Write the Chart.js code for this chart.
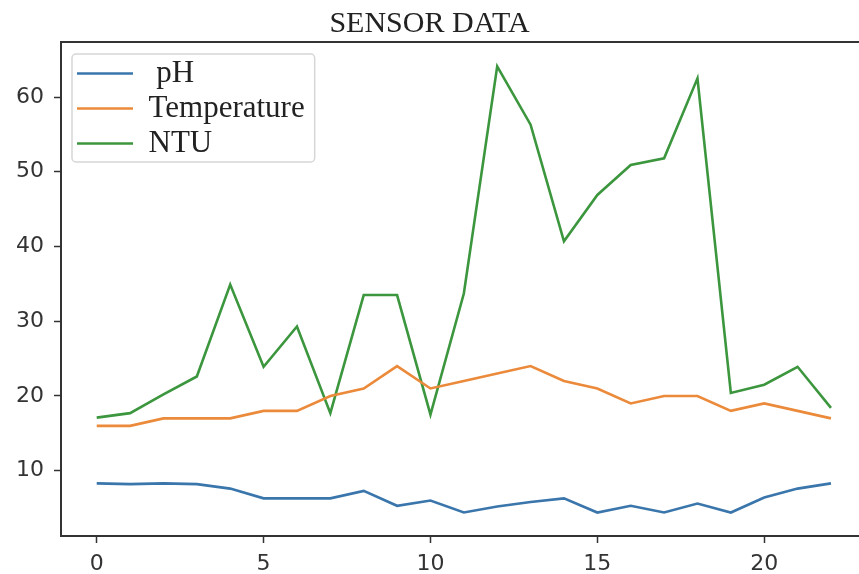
<!DOCTYPE html>
<html>
<head>
<meta charset="utf-8">
<script src="https://cdn.jsdelivr.net/npm/chart.js@4/dist/chart.umd.min.js"></script>
<style>
	html, body { margin: 0; padding: 0; background: #fff; }
	#wrap { width: 859px; height: 574px; }
</style>
</head>
<body>
<div id="wrap"><canvas id="sensorChart" width="859" height="574"></canvas></div>
<script>
// sample index on x
const samples = [0, 1, 2, 3, 4, 5, 6, 7, 8, 9, 10, 11, 12, 13, 14, 15, 16, 17, 18, 19, 20, 21, 22];
const phValues = [8.3, 8.2, 8.3, 8.2, 7.6, 6.3, 6.3, 6.3, 7.3, 5.3, 6.0, 4.4, 5.2, 5.8, 6.3, 4.4, 5.3, 4.4, 5.6, 4.4, 6.4, 7.6, 8.3];
const tempValues = [16, 16, 17, 17, 17, 18, 18, 20, 21, 24, 21, 22, 23, 24, 22, 21, 19, 20, 20, 18, 19, 18, 17];
const ntuValues = [17.1, 17.7, 20.2, 22.6, 34.9, 23.9, 29.3, 17.7, 33.5, 33.5, 17.5, 33.7, 64.1, 56.3, 40.7, 46.9, 50.9, 51.8, 62.5, 20.4, 21.5, 23.9, 18.4];
const xTicks = [0, 5, 10, 15, 20];
const yTicks = [10, 20, 30, 40, 50, 60];

function toPoints(values) {
	return samples.map(function(s, i) { return { x: s, y: values[i] }; });
}

const axisColor = '#333';

// top spine + legend inside the axes with a frame (matplotlib style)
const framePlugin = {
	id: 'frame',
	afterLayout: function(chart) {
		let lg = chart.legend;
		let a = chart.chartArea;
		let w = lg.right - lg.left, h = lg.bottom - lg.top;
		lg.left = a.left + 12;
		lg.top = a.top + 12;
		lg.right = lg.left + w;
		lg.bottom = lg.top + h;
	},
	beforeDatasetsDraw: function(chart) {
		let ctx = chart.ctx;
		let a = chart.chartArea;
		ctx.save();
		ctx.strokeStyle = axisColor;
		ctx.lineWidth = 2;
		ctx.beginPath();
		ctx.moveTo(a.left - 1, a.top);
		ctx.lineTo(a.right, a.top);
		ctx.stroke();
		ctx.restore();
	},
	beforeDraw: function(chart) {
		let lg = chart.legend;
		if (!lg) return;
		let ctx = chart.ctx;
		let pad = lg.options.labels.padding;
		let l = lg.left - 1;
		let t = lg.top + pad - 4;
		let r = lg.left + pad + Math.max.apply(null, lg.legendHitBoxes.map(b => b.width)) + 10;
		let bt = lg.top + pad + 3 * 35 - pad + 3;
		ctx.save();
		ctx.fillStyle = 'rgba(255,255,255,0.8)';
		ctx.strokeStyle = '#d6d6d6';
		ctx.lineWidth = 1.5;
		ctx.beginPath();
		ctx.roundRect(l, t, r - l, bt - t, 4);
		ctx.fill();
		ctx.stroke();
		ctx.restore();
	}
};

new Chart(document.getElementById('sensorChart'), {
	type: 'line',
	data: {
		datasets: [
			{ label: ' pH', data: toPoints(phValues), borderColor: '#3a76ab', backgroundColor: '#3a76ab', borderWidth: 2.6 },
			{ label: 'Temperature', data: toPoints(tempValues), borderColor: '#eb8a3a', backgroundColor: '#eb8a3a', borderWidth: 2.6 },
			{ label: 'NTU', data: toPoints(ntuValues), borderColor: '#3c963e', backgroundColor: '#3c963e', borderWidth: 2.6 }
		]
	},
	options: {
		responsive: false,
		animation: false,
		layout: { padding: 0 },
		elements: {
			point: { radius: 0 },
			line: { tension: 0 }
		},
		plugins: {
			title: {
				display: true,
				text: 'SENSOR DATA',
				color: '#222',
				font: { family: 'Liberation Serif', size: 30, weight: 'normal' },
				padding: { top: 6, bottom: 0 }
			},
			legend: {
				position: 'chartArea',
				align: 'start',
				labels: {
					usePointStyle: true,
					pointStyle: 'line',
					pointStyleWidth: 56,
					padding: 4,
					color: '#222',
					font: { family: 'Liberation Serif', size: 31 }
				}
			},
			tooltip: { enabled: false }
		},
		scales: {
			x: {
				type: 'linear',
				min: -1.07,
				max: 22.84,
				afterFit: function(scale) { scale.height = 38; },
				afterBuildTicks: function(scale) { scale.ticks = xTicks.map(v => ({ value: v })); },
				grid: { drawOnChartArea: false, drawTicks: true, tickLength: 7, color: axisColor, tickWidth: 1.5 },
				border: { color: axisColor, width: 2 },
				ticks: { color: '#333', padding: 8, font: { family: 'DejaVu Sans', size: 22 } }
			},
			y: {
				min: 1.26,
				max: 67.36,
				afterFit: function(scale) { scale.width = 61; },
				afterBuildTicks: function(scale) { scale.ticks = yTicks.map(v => ({ value: v })); },
				grid: { drawOnChartArea: false, drawTicks: true, tickLength: 7, color: axisColor, tickWidth: 1.5 },
				border: { color: axisColor, width: 2 },
				ticks: { color: '#333', padding: 10, font: { family: 'DejaVu Sans', size: 22 } }
			}
		}
	},
	plugins: [framePlugin]
});
</script>
</body>
</html>
